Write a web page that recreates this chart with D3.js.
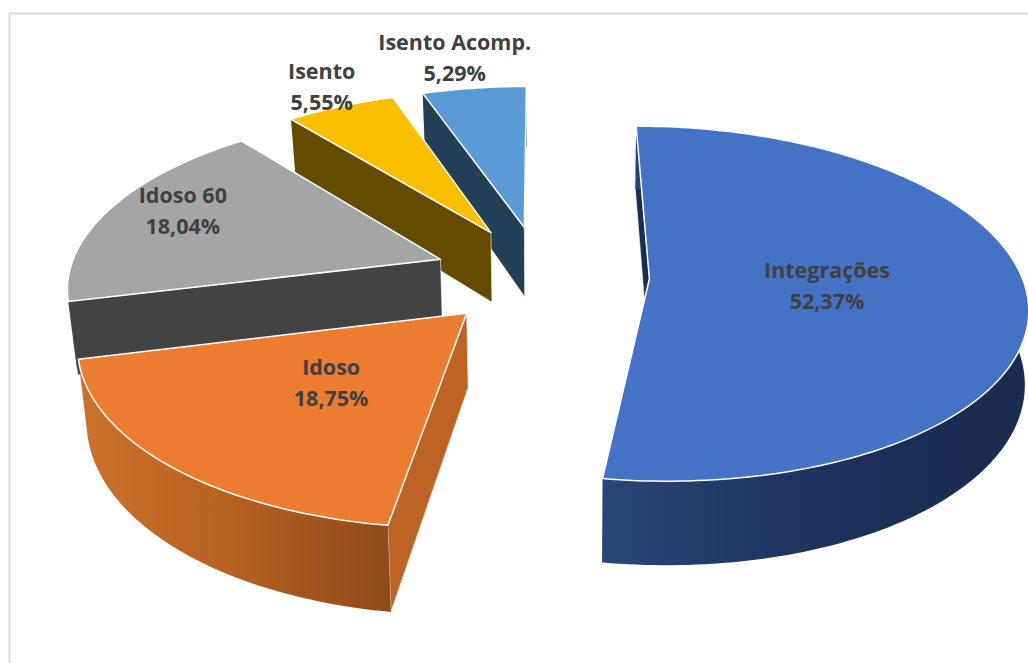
<!DOCTYPE html>
<html><head><meta charset="utf-8">
<script src="https://cdn.jsdelivr.net/npm/d3@7"></script>
<style>html,body{margin:0;padding:0;background:#fff;overflow:hidden}svg{display:block}</style>
</head><body><svg id="c" width="1028" height="663"></svg>
<script>
const categories = ["Integrações","Idoso","Idoso 60","Isento","Isento Acomp."];
const shares = [52.37,18.75,18.04,5.55,5.29];

const topColors  = ["#4472c4","#eb7c30","#a5a5a5","#fcbf00","#5b9bd5"];
const wallColors = ["#1a2c50","#bd6425","#434343","#644b00","#243f58"];
const rimStops   = [["#2b4678","#1f3462","#1a2c50"],["#cc722b","#b5601f","#8f4a1c"],["#434343","#434343","#434343"],["#644b00","#644b00","#644b00"],["#243f58","#243f58","#243f58"]];
const rimSpans   = [[600,960],[80,390],[60,440],[290,490],[420,525]];
const drawOrder  = [4,3,2,0,1];
const labelRadius = [0.5,0.5,0.75,1.05,1.1];
const labelNudgeX = [-10,5,-8,-12,-15];
const labelNudgeY = [1,-2,-9,-14,-18];

const cx=541.5, cy=275, R=372, tilt=0.465, persp=0.14, explode=0.29, depth=72, shrinkLeft=0.02, shrinkRight=0.008;

function project(X,Y,low){
  const f=1/(1-persp*Y);
  let x=cx+R*X*f, y=cy+R*tilt*Y*f;
  if(low){ x=cx+(x-cx)*(1-(x<cx?shrinkLeft:shrinkRight)); y+=depth*f; }
  return [x,y];
}
const svg=d3.select("#c");
svg.append("rect").attr("x",9.5).attr("y",13.5).attr("width",1100).attr("height",800)
  .attr("fill","#fff").attr("stroke","#d9d9d9").attr("stroke-width",2);

const pie=d3.pie().sort(null).startAngle(0).endAngle(2*Math.PI).value(d=>d);
const arcs=pie(shares).map((a,i)=>{
  const mid=(a.startAngle+a.endAngle)/2;
  return {i,a0:a.startAngle,a1:a.endAngle,mid,ox:explode*Math.sin(mid),oy:-explode*Math.cos(mid),name:categories[i],v:shares[i]};
});
const pt=(d,ang,r,low)=>project(d.ox+r*Math.sin(ang),d.oy-r*Math.cos(ang),low);
const angles=d=>{const n=Math.max(8,Math.ceil((d.a1-d.a0)/0.02));return d3.range(n+1).map(k=>d.a0+(d.a1-d.a0)*k/n);};
const line=d3.line().curve(d3.curveLinearClosed);

const defs=svg.append("defs");
arcs.forEach(d=>{
  const g=defs.append("linearGradient").attr("id","rim"+d.i).attr("gradientUnits","userSpaceOnUse")
    .attr("x1",rimSpans[d.i][0]).attr("x2",rimSpans[d.i][1]).attr("y1",0).attr("y2",0);
  rimStops[d.i].forEach((c,k)=>g.append("stop").attr("offset",k/2).attr("stop-color",c));
});

const slices=svg.selectAll("g.slice").data(drawOrder.map(i=>arcs[i])).join("g").attr("class","slice");
slices.append("path").attr("fill",d=>wallColors[d.i]).attr("stroke","#fff").attr("stroke-width",0.6)
  .attr("d",d=>line([pt(d,d.a0,1,false),pt(d,d.a0,0,false),pt(d,d.a0,0,true),pt(d,d.a0,1,true)]));
slices.append("path").attr("fill",d=>`url(#rim${d.i})`)
  .attr("d",d=>{const A=angles(d);return line(A.map(t=>pt(d,t,1,false)).concat(A.slice().reverse().map(t=>pt(d,t,1,true))));});
slices.append("path").attr("fill",d=>topColors[d.i]).attr("stroke","#fff").attr("stroke-width",1.5).attr("stroke-linejoin","round")
  .attr("d",d=>line([pt(d,d.a0,0,false)].concat(angles(d).map(t=>pt(d,t,1,false)))));

const pct=d=>d3.format(".2f")(d).replace(".",",")+"%";
const labels=svg.selectAll("text.lab").data(arcs).join("text").attr("class","lab")
  .attr("text-anchor","middle").attr("fill","#404040")
  .style("font-family","'Open Sans',sans-serif").style("font-weight",700).style("font-size","21.5px")
  .attr("transform",d=>{const p=pt(d,d.mid,labelRadius[d.i],false);return `translate(${p[0]+labelNudgeX[d.i]},${p[1]+labelNudgeY[d.i]})`;});
labels.append("tspan").attr("x",0).attr("y",-8).text(d=>d.name);
labels.append("tspan").attr("x",0).attr("y",23).text(d=>pct(d.v));
</script></body></html>
